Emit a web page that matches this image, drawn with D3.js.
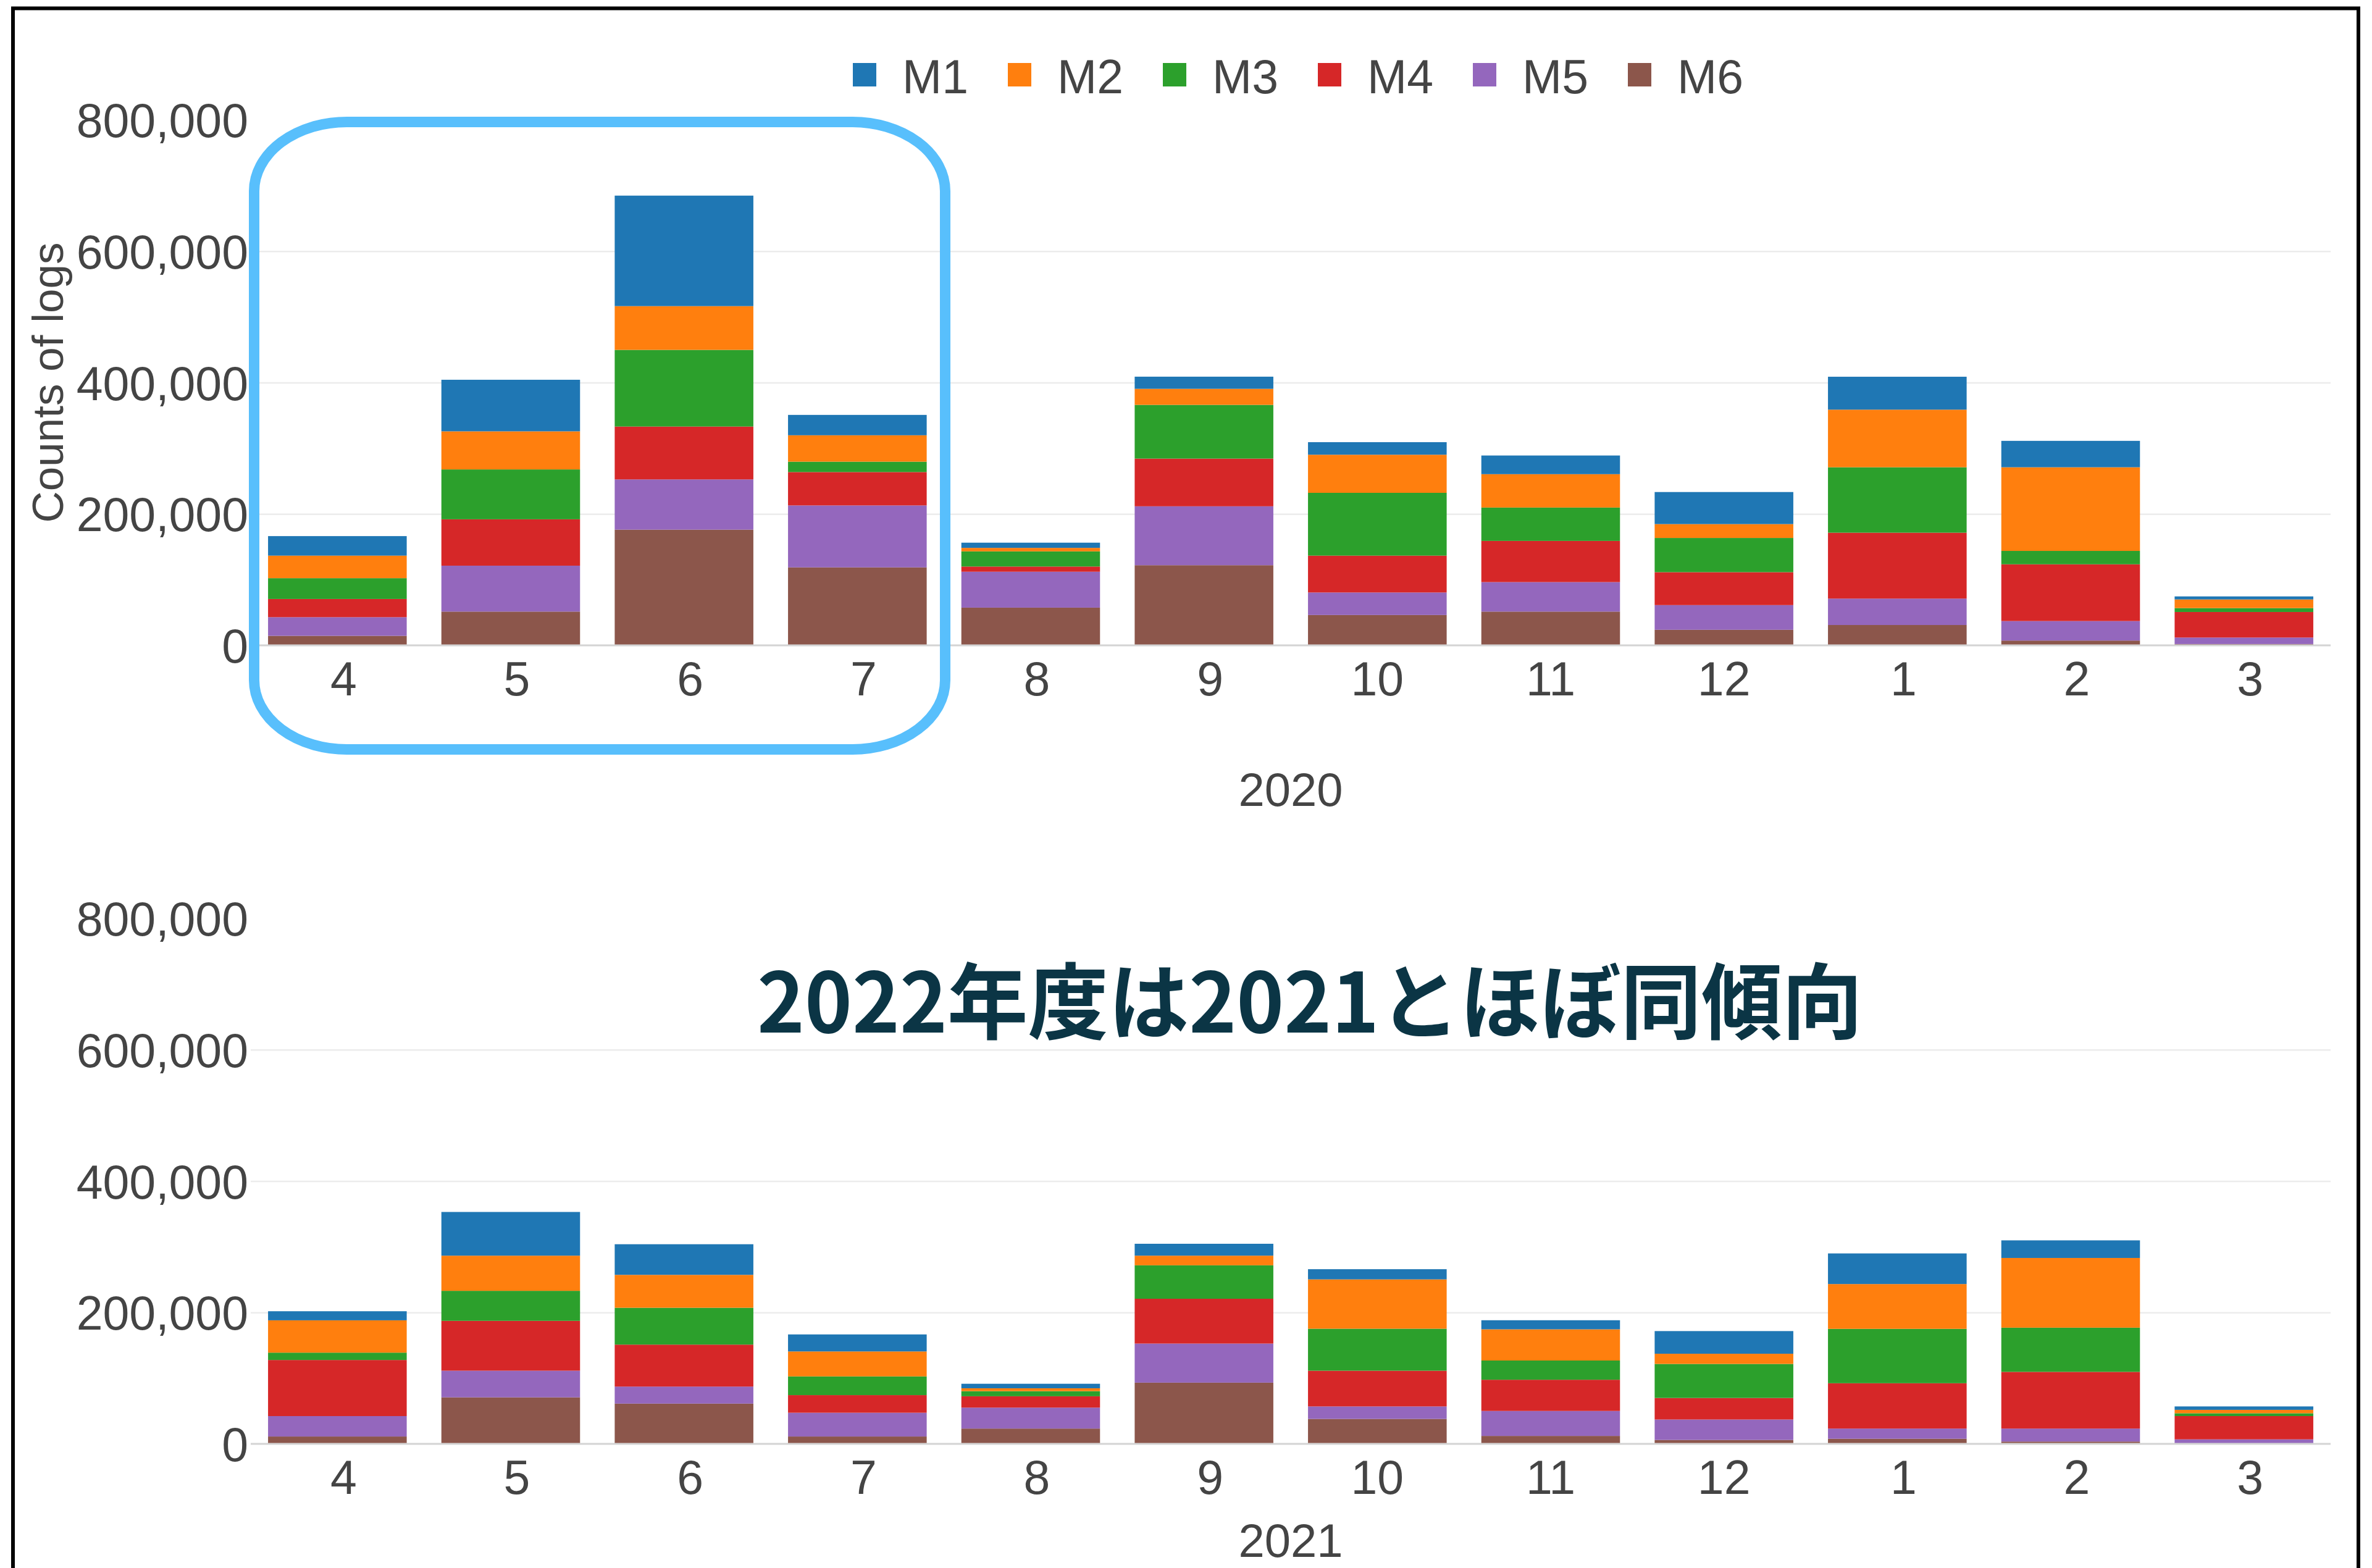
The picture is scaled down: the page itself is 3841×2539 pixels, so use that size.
<!DOCTYPE html>
<html>
<head>
<meta charset="utf-8">
<script src="https://cdn.jsdelivr.net/npm/d3@7"></script>
<style>
  html, body { margin: 0; padding: 0; background: #fff; }
  svg { display: block; }
</style>
</head>
<body>
<script>
// ---------------- DATA ----------------
const months = ["4","5","6","7","8","9","10","11","12","1","2","3"];
const seriesNames = ["M1","M2","M3","M4","M5","M6"];
const seriesColors = ["#1f77b4","#ff7f0e","#2ca02c","#d62728","#9467bd","#8c564b"];
const yTicks = [0, 200000, 400000, 600000, 800000];
const gridTicks = [200000, 400000, 600000];

// fiscal 2020
const m1_2020 = [29700, 78500, 168200, 31000, 7900, 18500, 19100, 28400, 48800, 50100, 40200, 4600];
const m2_2020 = [34300, 58000, 66600, 40200, 5300, 24400, 58000, 50800, 21100, 87700, 127300, 13200];
const m3_2020 = [31700, 75900, 116700, 15800, 23100, 81800, 95600, 50800, 52100, 99600, 20400, 5900];
const m4_2020 = [27700, 70600, 80500, 50800, 7900, 72600, 56100, 62700, 50100, 100300, 86400, 38900];
const m5_2020 = [28400, 69900, 76500, 94300, 54700, 89700, 34300, 44900, 37600, 40200, 29700, 9900];
const m6_2020 = [14500, 51400, 176100, 118700, 57400, 122000, 46200, 51400, 23700, 31000, 7300, 2000];

// fiscal 2021
const m1_2021 = [13800, 66500, 46600, 25900, 6900, 18100, 15500, 13800, 34500, 46600, 26800, 5200];
const m2_2021 = [49200, 53500, 50100, 38000, 4300, 14700, 75100, 47500, 15500, 68200, 106100, 5200];
const m3_2021 = [11200, 45700, 56100, 28500, 7800, 50900, 63900, 29300, 51800, 82800, 67300, 4300];
const m4_2021 = [85400, 75900, 63900, 26800, 17300, 68200, 54400, 47500, 32800, 69000, 86300, 35400];
const m5_2021 = [31100, 40600, 25900, 36200, 31900, 59500, 19000, 38000, 31100, 15500, 19800, 5900];
const m6_2021 = [11200, 70800, 61300, 11200, 23300, 93200, 38000, 12100, 6000, 7800, 3500, 1000];

const yTitle = "Counts of logs";
const xTitle2020 = "2020";
const xTitle2021 = "2021";
const annotation = "2022年度は2021とほぼ同傾向";

// ---------------- BUILD ----------------
function buildRows(arrs) {
  return months.map((m, i) => {
    const row = { month: m };
    seriesNames.forEach((s, k) => { row[s] = arrs[k][i]; });
    return row;
  });
}
const rows2020 = buildRows([m1_2020, m2_2020, m3_2020, m4_2020, m5_2020, m6_2020]);
const rows2021 = buildRows([m1_2021, m2_2021, m3_2021, m4_2021, m5_2021, m6_2021]);

const W = 3841, H = 2539;
const FONT = "'Liberation Sans', Arial, Helvetica, sans-serif";
const TXT = "#444";
const color = d3.scaleOrdinal().domain(seriesNames).range(seriesColors);

const svg = d3.select("body").append("svg")
  .attr("width", W).attr("height", H)
  .attr("viewBox", `0 0 ${W} ${H}`);
svg.append("rect").attr("width", W).attr("height", H).attr("fill", "#fff");

const x = d3.scaleBand().domain(months).range([406, 3774]).paddingInner(0.2).paddingOuter(0.1);
const stackKeys = seriesNames.slice().reverse(); // M6 at bottom

function drawPanel(rows, yZero, yTop, xTitle, xTitleBaseline, showYTitle) {
  const y = d3.scaleLinear().domain([0, 800000]).range([yZero, yTop]);
  const g = svg.append("g");

  // gridlines
  const grid = g.append("g").attr("transform", `translate(406,0)`)
    .call(d3.axisLeft(y).tickValues(gridTicks).tickSize(-(3774 - 406)).tickFormat(""));
  grid.select(".domain").remove();
  grid.selectAll(".tick line").attr("stroke", "#ececec").attr("stroke-width", 2.5);

  // bars
  const stacked = d3.stack().keys(stackKeys)(rows);
  g.append("g").selectAll("g").data(stacked).join("g")
    .attr("fill", d => color(d.key))
    .selectAll("rect").data(d => d).join("rect")
      .attr("x", d => x(d.data.month))
      .attr("width", x.bandwidth())
      .attr("y", d => y(d[1]))
      .attr("height", d => y(d[0]) - y(d[1]));

  // zero line
  g.append("line").attr("x1", 406).attr("x2", 3774)
    .attr("y1", y(0)).attr("y2", y(0))
    .attr("stroke", "#d4d4d4").attr("stroke-width", 3);

  // y axis labels
  const ya = g.append("g").attr("transform", `translate(406,0)`)
    .call(d3.axisLeft(y).tickValues(yTicks).tickSize(0).tickPadding(4).tickFormat(d3.format(",")));
  ya.select(".domain").remove();
  ya.selectAll("text").attr("font-family", FONT).attr("font-size", 77)
    .attr("fill", TXT).attr("dy", "0.36em");

  // x axis labels
  const xa = g.append("g").attr("transform", `translate(0,${y(0)})`)
    .call(d3.axisBottom(x).tickSize(0).tickPadding(26));
  xa.select(".domain").remove();
  xa.selectAll("text").attr("font-family", FONT).attr("font-size", 77).attr("fill", TXT)
    .attr("dx", d => (d.length === 1 ? 10 : 0));

  // x title
  g.append("text").attr("x", 2090).attr("y", xTitleBaseline)
    .attr("text-anchor", "middle").attr("font-family", FONT).attr("font-size", 76)
    .attr("fill", TXT).text(xTitle);

  if (showYTitle) {
    g.append("text")
      .attr("transform", `translate(102,${(yZero + yTop) / 2}) rotate(-90)`)
      .attr("text-anchor", "middle").attr("font-family", FONT).attr("font-size", 71)
      .attr("fill", TXT).text(yTitle);
  }
}

drawPanel(rows2020, 1045, 194, xTitle2020, 1305, true);
drawPanel(rows2021, 2338, 1487, xTitle2021, 2521, false);

// legend
const legend = svg.append("g");
seriesNames.forEach((s, i) => {
  const lx = 1381 + i * 251;
  legend.append("rect").attr("x", lx).attr("y", 102).attr("width", 38).attr("height", 38)
    .attr("fill", color(s));
  legend.append("text").attr("x", lx + 80).attr("y", 151)
    .attr("font-family", FONT).attr("font-size", 77).attr("fill", TXT).text(s);
});

// annotation
svg.append("text").attr("x", 1226).attr("y", 1672)
  .attr("font-family", "'Noto Sans CJK JP', 'Noto Sans', sans-serif")
  .attr("font-weight", 700).attr("font-size", 134).attr("fill", "#0b3545")
  .attr("textLength", 1790).attr("lengthAdjust", "spacingAndGlyphs")
  .text(annotation);

// highlight box
svg.append("rect").attr("x", 411.5).attr("y", 197.5).attr("width", 1119).attr("height", 1016)
  .attr("rx", 150).attr("ry", 112)
  .attr("fill", "none").attr("stroke", "#58bffc").attr("stroke-width", 17);

// outer frame
svg.append("rect").attr("x", 21).attr("y", 13.5).attr("width", 3798).attr("height", 2600)
  .attr("fill", "none").attr("stroke", "#000").attr("stroke-width", 6);
</script>
</body>
</html>
